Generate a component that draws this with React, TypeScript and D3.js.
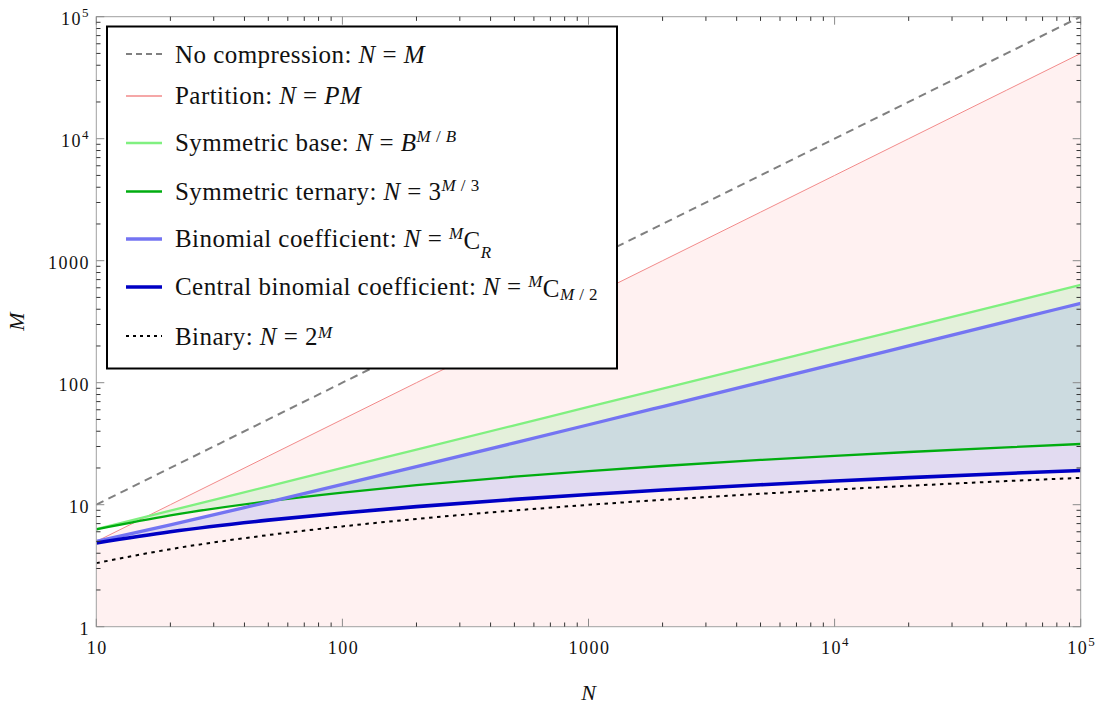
import React from 'react';
import * as d3 from 'd3';

// N values (x) at which every curve was read
const N_VALUES = [10, 20, 50, 100, 200, 500, 1000, 2000, 5000, 10000, 20000, 50000, 100000];
// M values (y) per series
const M_NO_COMPRESSION = [10, 20, 50, 100, 200, 500, 1000, 2000, 5000, 10000, 20000, 50000, 100000];
const M_PARTITION = [5, 10, 25, 50, 100, 250, 500, 1000, 2500, 5000, 10000, 25000, 50000];
const M_SYM_BASE = [6.32, 8.94, 14.14, 20, 28.28, 44.72, 63.25, 89.44, 141.4, 200, 282.8, 447.2, 632.5];
const M_SYM_TERNARY = [6.29, 8.18, 10.68, 12.58, 14.47, 16.97, 18.86, 20.76, 23.26, 25.15, 27.04, 29.55, 31.44];
const M_BINOMIAL = [5, 6.84, 10.51, 14.65, 20.51, 32.13, 45.22, 63.75, 100.5, 141.9, 200.5, 316.7, 447.7];
const M_CENTRAL = [4.86, 6.0, 7.47, 8.56, 9.64, 11.06, 12.12, 13.18, 14.57, 15.62, 16.67, 18.04, 19.08];
const M_BINARY = [3.32, 4.32, 5.64, 6.64, 7.64, 8.97, 9.97, 10.97, 12.29, 13.29, 14.29, 15.61, 16.61];

// tick labels
const X_TICKS = [10, 100, 1000, 10000, 100000];
const X_TICK_LABELS: [string, string][] = [['10', ''], ['100', ''], ['1000', ''], ['10', '4'], ['10', '5']];
const Y_TICKS = [1, 10, 100, 1000, 10000, 100000];
const Y_TICK_LABELS: [string, string][] = [['1', ''], ['10', ''], ['100', ''], ['1000', ''], ['10', '4'], ['10', '5']];
const MINOR_MULTIPLIERS = [2, 3, 4, 5, 6, 7, 8, 9];

const FONT = "'Liberation Serif', 'DejaVu Serif', serif";

export default function App() {
  const left = 96.3, right = 1080.7, top = 16.7, bottom = 626.7;
  const x = d3.scaleLog().domain([10, 100000]).range([left, right]);
  const y = d3.scaleLog().domain([1, 100000]).range([bottom, top]);

  const line = (arr: number[]) =>
    d3.line<number>()
      .x((_, i) => x(N_VALUES[i]))
      .y((d) => y(d))
      .curve(d3.curveMonotoneX)(arr) || '';

  const area = (lo: number[] | null, hi: number[]) =>
    d3.area<number>()
      .x((_, i) => x(N_VALUES[i]))
      .y0((_, i) => (lo ? y(lo[i]) : y(1)))
      .y1((d) => y(d))
      .curve(d3.curveMonotoneX)(hi) || '';

  const xMinor: number[] = [];
  for (let d = 10; d < 100000; d *= 10) MINOR_MULTIPLIERS.forEach((k) => xMinor.push(d * k));
  const yMinor: number[] = [];
  for (let d = 1; d < 100000; d *= 10) MINOR_MULTIPLIERS.forEach((k) => yMinor.push(d * k));

  const series = [
    { data: M_NO_COMPRESSION, stroke: '#808080', width: 2, dash: '8,5.5' },
    { data: M_PARTITION, stroke: '#f28a8a', width: 1, dash: undefined },
    { data: M_SYM_BASE, stroke: '#80f080', width: 2.3, dash: undefined },
    { data: M_SYM_TERNARY, stroke: '#00ad10', width: 2.3, dash: undefined },
    { data: M_BINOMIAL, stroke: '#7474f2', width: 3.3, dash: undefined },
    { data: M_CENTRAL, stroke: '#0000c4', width: 3.6, dash: undefined },
    { data: M_BINARY, stroke: '#000000', width: 2, dash: '3.5,4.5' },
  ];

  const legendRows = [54, 96, 143, 191.5, 239, 287, 336];
  const it = (s: string) => <tspan style={{ fontStyle: 'italic' }}>{s}</tspan>;

  const majorLen = 8, minorLen = 4.2;
  const majorCol = '#8a8a8a', minorCol = '#333';

  return (
    <svg width={1106} height={704}
      style={{ position: 'absolute', left: 0, top: 0, display: 'block', background: '#fff', fontFamily: FONT }}>
      <defs>
        <clipPath id="plotClip">
          <rect x={left} y={top} width={right - left} height={bottom - top} />
        </clipPath>
      </defs>
      <g clipPath="url(#plotClip)">
        <path d={area(null, M_PARTITION)} fill="#fff1f1" />
        <path d={area(M_SYM_TERNARY, M_SYM_BASE)} fill="rgba(120,241,136,0.2)" />
        <path d={area(M_CENTRAL, M_BINOMIAL)} fill="rgba(110,136,246,0.2)" />
        {series.map((s, i) => (
          <path key={i} d={line(s.data)} fill="none" stroke={s.stroke} strokeWidth={s.width}
            strokeDasharray={s.dash} />
        ))}
      </g>
      {/* frame */}
      <rect x={left} y={top} width={right - left} height={bottom - top} fill="none" stroke="#a0a0a0" strokeWidth={1} />
      {/* ticks */}
      <g>
        {X_TICKS.map((t) => (
          <g key={'xt' + t}>
            <line x1={x(t)} x2={x(t)} y1={bottom} y2={bottom - majorLen} stroke={majorCol} />
            <line x1={x(t)} x2={x(t)} y1={top} y2={top + majorLen} stroke={majorCol} />
          </g>
        ))}
        {xMinor.map((t) => (
          <g key={'xm' + t}>
            <line x1={x(t)} x2={x(t)} y1={bottom} y2={bottom - minorLen} stroke={minorCol} />
            <line x1={x(t)} x2={x(t)} y1={top} y2={top + minorLen} stroke={minorCol} />
          </g>
        ))}
        {Y_TICKS.map((t) => (
          <g key={'yt' + t}>
            <line y1={y(t)} y2={y(t)} x1={left} x2={left + majorLen} stroke={majorCol} />
            <line y1={y(t)} y2={y(t)} x1={right} x2={right - majorLen} stroke={majorCol} />
          </g>
        ))}
        {yMinor.map((t) => (
          <g key={'ym' + t}>
            <line y1={y(t)} y2={y(t)} x1={left} x2={left + minorLen} stroke={minorCol} />
            <line y1={y(t)} y2={y(t)} x1={right} x2={right - minorLen} stroke={minorCol} />
          </g>
        ))}
      </g>
      {/* tick labels */}
      <g style={{ fontSize: 18, letterSpacing: 1.5 }} fill="#111">
        {X_TICKS.map((t, i) => (
          <text key={'xl' + t} x={x(t) + 1} y={bottom + 27} textAnchor="middle">
            {X_TICK_LABELS[i][0]}
            {X_TICK_LABELS[i][1] && <tspan dy={-8} style={{ fontSize: 13 }}>{X_TICK_LABELS[i][1]}</tspan>}
          </text>
        ))}
        {Y_TICKS.map((t, i) => (
          <text key={'yl' + t} x={90} y={y(t) + 8.5} textAnchor="end">
            {Y_TICK_LABELS[i][0]}
            {Y_TICK_LABELS[i][1] && <tspan dy={-8} style={{ fontSize: 13 }}>{Y_TICK_LABELS[i][1]}</tspan>}
          </text>
        ))}
      </g>
      {/* axis titles */}
      <text x={(left + right) / 2} y={700} textAnchor="middle" style={{ fontSize: 22, fontStyle: 'italic' }} fill="#111">N</text>
      <text transform={`translate(24,${(top + bottom) / 2}) rotate(-90)`} textAnchor="middle"
        style={{ fontSize: 22, fontStyle: 'italic' }} fill="#111">M</text>

      {/* legend */}
      <g>
        <rect x={107} y={26.5} width={510} height={342} fill="#fff" stroke="#000" strokeWidth={2} />
        {series.map((s, i) => (
          <line key={'ll' + i} x1={126} x2={162} y1={legendRows[i]} y2={legendRows[i]} stroke={s.stroke}
            strokeWidth={Math.max(s.width, 1.6)} strokeDasharray={s.dash ? (i === 0 ? '6,4' : '3,4') : undefined} />
        ))}
        <g style={{ fontSize: 25, letterSpacing: 0.45 }} fill="#111">
          <text x={175} y={legendRows[0] + 8.5}>No compression: {it('N')} = {it('M')}</text>
          <text x={175} y={legendRows[1] + 7.5}>Partition: {it('N')} = {it('PM')}</text>
          <text x={175} y={legendRows[2] + 8}>
            Symmetric base: {it('N')} = {it('B')}
            <tspan dy={-9} style={{ fontSize: 17 }}>{it('M')} / {it('B')}</tspan>
          </text>
          <text x={175} y={legendRows[3] + 8}>
            Symmetric ternary: {it('N')} = 3
            <tspan dy={-9} style={{ fontSize: 17 }}>{it('M')} / 3</tspan>
          </text>
          <text x={175} y={legendRows[4] + 8}>
            Binomial coefficient: {it('N')} ={' '}
            <tspan dy={-8} style={{ fontSize: 17, fontStyle: 'italic' }}>M</tspan>
            <tspan dy={10}>C</tspan>
            <tspan dy={9} style={{ fontSize: 17, fontStyle: 'italic' }}>R</tspan>
          </text>
          <text x={175} y={legendRows[5] + 8}>
            Central binomial coefficient: {it('N')} ={' '}
            <tspan dy={-8} style={{ fontSize: 17, fontStyle: 'italic' }}>M</tspan>
            <tspan dy={9.5}>C</tspan>
            <tspan dy={3} style={{ fontSize: 17 }}>{it('M')} / 2</tspan>
          </text>
          <text x={175} y={legendRows[6] + 9}>
            Binary: {it('N')} = 2
            <tspan dy={-7} style={{ fontSize: 17, fontStyle: 'italic' }}>M</tspan>
          </text>
        </g>
      </g>
    </svg>
  );
}
